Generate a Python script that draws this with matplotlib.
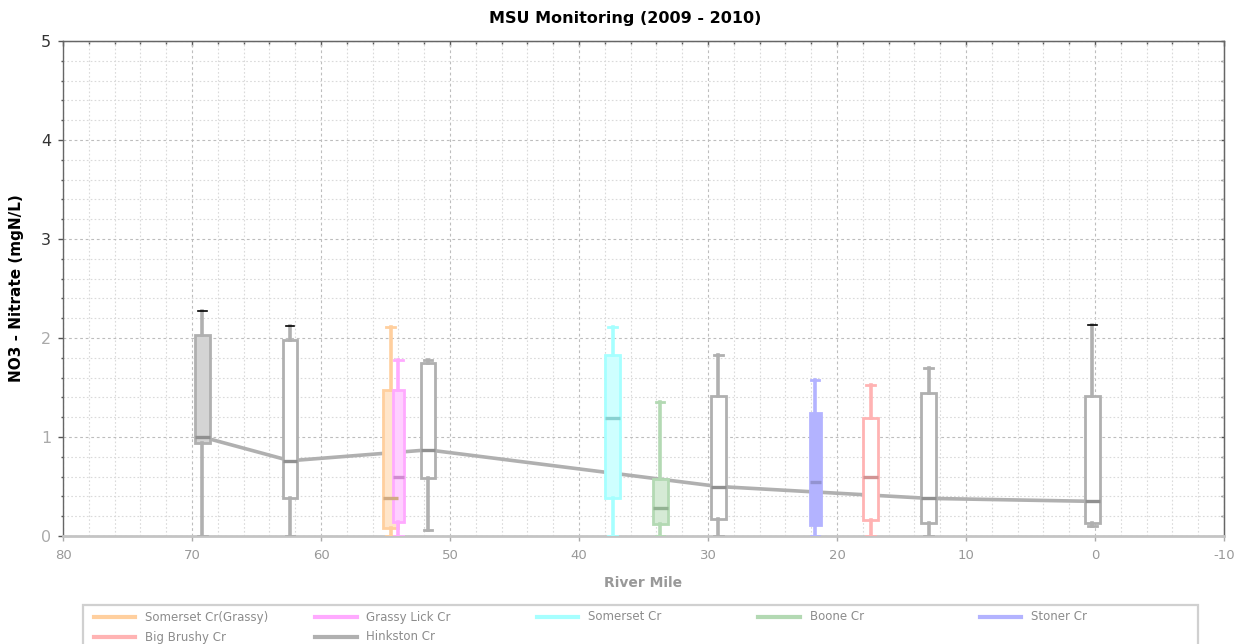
import matplotlib
matplotlib.use("Agg")
import matplotlib.pyplot as plt
from matplotlib.ticker import MultipleLocator, NullFormatter
from matplotlib.patches import Rectangle
from matplotlib.lines import Line2D
import matplotlib.colors as mcolors

# ---------------- data ----------------
title = "MSU Monitoring (2009 - 2010)"
x_label = "River Mile"
y_label = "NO3 - Nitrate (mgN/L)"

series_names = ["Somerset Cr(Grassy)", "Grassy Lick Cr", "Somerset Cr", "Boone Cr",
                "Stoner Cr", "Big Brushy Cr", "Hinkston Cr"]
series_colors = ["#ffcf9e", "#ffaaff", "#a6ffff", "#b3d9b3", "#b3b3ff", "#ffb3b3", "#b0b0b0"]

# one box per sampling site (series index, river mile, five-number summary)
site_series = [6, 6, 0, 1, 6, 2, 3, 6, 4, 5, 6, 6]
site_mile = [69.2, 62.4, 54.6, 54.0, 51.7, 37.4, 33.7, 29.2, 21.7, 17.4, 12.9, 0.2]
site_min = [0.00, 0.00, 0.00, 0.00, 0.06, 0.00, 0.00, 0.00, 0.00, 0.00, 0.00, 0.10]
site_q1 = [0.94, 0.38, 0.08, 0.14, 0.59, 0.38, 0.12, 0.17, 0.11, 0.16, 0.13, 0.13]
site_med = [1.00, 0.76, 0.38, 0.60, 0.87, 1.19, 0.28, 0.50, 0.55, 0.60, 0.38, 0.35]
site_q3 = [2.03, 1.98, 1.47, 1.47, 1.75, 1.83, 0.58, 1.41, 1.24, 1.19, 1.44, 1.41]
site_max = [2.27, 2.12, 2.11, 1.78, 1.78, 2.11, 1.35, 1.83, 1.58, 1.53, 1.70, 2.13]

x_ticks = [80, 70, 60, 50, 40, 30, 20, 10, 0, -10]
y_ticks = [0, 1, 2, 3, 4, 5]

# ---------------- style ----------------
site_filled = [True, False, True, True, False, True, True, False, True, False, False, False]
site_width = [1.15, 1.15, 1.15, 0.9, 1.15, 1.2, 1.2, 1.2, 0.85, 1.2, 1.2, 1.2]
mainstem = 6

W, H = 1237, 644
fig = plt.figure(figsize=(W / 100, H / 100), dpi=100)
ax = fig.add_axes([63 / W, 1 - 536 / H, (1224 - 63) / W, (536 - 41) / H])

def lighter(c, f):
    r, g, b = mcolors.to_rgb(c)
    return (1 - f * (1 - r), 1 - f * (1 - g), 1 - f * (1 - b))

def darker(c, f):
    r, g, b = mcolors.to_rgb(c)
    return (r * f, g * f, b * f)

# grid
ax.set_xlim(x_ticks[0], x_ticks[-1])
ax.set_ylim(y_ticks[0], y_ticks[-1])
ax.xaxis.set_major_locator(MultipleLocator(10))
ax.xaxis.set_minor_locator(MultipleLocator(2))
ax.yaxis.set_major_locator(MultipleLocator(1))
ax.yaxis.set_minor_locator(MultipleLocator(0.2))
ax.grid(which="major", color="#bdbdbd", linestyle=(0, (2.5, 2.5)), linewidth=0.8)
ax.grid(which="minor", color="#dadada", linestyle=(0, (1.5, 2)), linewidth=0.8)
ax.set_axisbelow(True)

# median trend line of the main stem
ms_x = [m for m, s in zip(site_mile, site_series) if s == mainstem]
ms_y = [v for v, s in zip(site_med, site_series) if s == mainstem]
ax.plot(ms_x, ms_y, color="#b0b0b0", linewidth=2.6, zorder=2, solid_capstyle="butt")

# boxes
stats = [dict(whislo=a, q1=b, med=c, q3=d, whishi=e, label="")
         for a, b, c, d, e in zip(site_min, site_q1, site_med, site_q3, site_max)]
res = ax.bxp(stats, positions=site_mile, widths=site_width, capwidths=0.65,
             patch_artist=True, showfliers=False, manage_ticks=False, zorder=3)
for i, s in enumerate(site_series):
    col = series_colors[s]
    face = lighter(col, 0.55) if site_filled[i] else "white"
    if s == 4:
        face = col
    res["boxes"][i].set(facecolor=face, edgecolor=col, linewidth=2.0)
    for k in (2 * i, 2 * i + 1):
        res["whiskers"][k].set(color=col, linewidth=2.6)
        res["caps"][k].set(color=col, linewidth=2.0)
    res["medians"][i].set(color=darker(col, 0.82), linewidth=2.4)
# top caps that sit above the blurred band are crisp black
for i in (0, 1, 11):
    res["caps"][2 * i + 1].set(color="black", linewidth=1.2)

# axes cosmetics
for side in ("left", "top", "right"):
    ax.spines[side].set_color("#666666")
    ax.spines[side].set_linewidth(1.0)
ax.spines["bottom"].set_color("#c4c4c4")
ax.spines["bottom"].set_linewidth(2.0)

ax.tick_params(axis="y", which="major", left=True, right=False, direction="out",
               length=3.6, width=1, color="#555555", labelsize=11.5,
               labelcolor="#333333", pad=5)
ax.tick_params(axis="y", which="minor", left=True, right=False, direction="out",
               length=1.8, width=1, color="#555555")
ax.tick_params(axis="x", which="major", bottom=True, top=False, direction="out",
               length=3.6, width=1, color="#aaaaaa", labelsize=9.5,
               labelcolor="#999999", pad=6)
ax.tick_params(axis="x", which="minor", bottom=False, top=False)
ax.set_xticks(x_ticks)
ax.set_yticks(y_ticks)
ax.set_xticklabels([str(t) for t in x_ticks])
for t, lab in zip(y_ticks, ax.get_yticklabels()):
    if t <= 2:
        lab.set_color("#aaaaaa")

# inward ticks on the top and right frame
sec_x = ax.secondary_xaxis("top")
sec_x.xaxis.set_major_locator(MultipleLocator(10))
sec_x.xaxis.set_minor_locator(MultipleLocator(2))
sec_x.xaxis.set_major_formatter(NullFormatter())
sec_x.tick_params(which="major", direction="in", length=3.6, width=1, color="#555555")
sec_x.tick_params(which="minor", direction="in", length=2.2, width=1, color="#555555")
sec_x.spines["top"].set_color("#666666")
sec_y = ax.secondary_yaxis("right")
sec_y.yaxis.set_major_locator(MultipleLocator(1))
sec_y.yaxis.set_minor_locator(MultipleLocator(0.2))
sec_y.yaxis.set_major_formatter(NullFormatter())
sec_y.tick_params(which="major", direction="in", length=2.5, width=1, color="#555555")
sec_y.tick_params(which="minor", direction="in", length=2.5, width=1, color="#555555")
sec_y.spines["right"].set_color("#666666")

fig.text(625 / W, 1 - 18 / H, title, fontsize=11.5, fontweight="bold",
         ha="center", va="center")
ax.set_xlabel(x_label, fontsize=10, fontweight="bold", color="#999999", labelpad=10)
ax.set_ylabel(y_label, fontsize=11, fontweight="bold", labelpad=12)

# legend (row-wise, fixed column pitch)
fig.add_artist(Rectangle((83 / W, 1 - 700 / H), (1198 - 83) / W, (700 - 605) / H,
                         transform=fig.transFigure, facecolor="white",
                         edgecolor="#d0d0d0", linewidth=1.6))
row_y = [617, 637]
for i, (name, col) in enumerate(zip(series_names, series_colors)):
    r, c = divmod(i, 5)
    x = 94 + c * 221.5
    fig.add_artist(Line2D([x / W, (x + 41) / W], [1 - row_y[r] / H] * 2, color=col,
                          linewidth=3.0, transform=fig.transFigure))
    fig.text((x + 51) / W, 1 - row_y[r] / H, name, fontsize=8.5, color="#8c8c8c",
             va="center", ha="left")

fig.savefig("out.png", dpi=100)
